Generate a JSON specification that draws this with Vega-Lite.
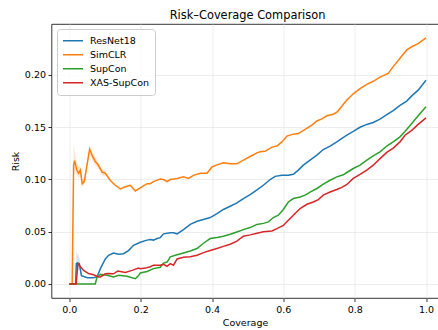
{
  "$schema": "https://vega.github.io/schema/vega-lite/v6.json",
  "width": 387,
  "height": 274,
  "autosize": {"type": "none"},
  "padding": {"left": 51.5, "top": 24, "right": 0, "bottom": 32},
  "title": {"text": "Risk–Coverage Comparison", "fontSize": 11.4, "fontWeight": "normal", "font": "DejaVu Sans", "color": "#000", "anchor": "middle", "offset": 2.5, "dx": 2.5},
  "data": {"values": [
    {"m":"ResNet18","c":0,"r":0},
    {"m":"ResNet18","c":0.0175,"r":0},
    {"m":"ResNet18","c":0.0196,"r":0.0195,"lo":0.010,"hi":0.032},
    {"m":"ResNet18","c":0.022,"r":0.020,"lo":0.012,"hi":0.029},
    {"m":"ResNet18","c":0.028,"r":0.0195,"lo":0.014,"hi":0.025},
    {"m":"ResNet18","c":0.034,"r":0.008,"lo":0.006,"hi":0.010},
    {"m":"ResNet18","c":0.05,"r":0.006},
    {"m":"ResNet18","c":0.068,"r":0.006},
    {"m":"ResNet18","c":0.078,"r":0.007},
    {"m":"ResNet18","c":0.087,"r":0.0147},
    {"m":"ResNet18","c":0.101,"r":0.024},
    {"m":"ResNet18","c":0.11,"r":0.0275},
    {"m":"ResNet18","c":0.124,"r":0.0297},
    {"m":"ResNet18","c":0.138,"r":0.0284},
    {"m":"ResNet18","c":0.152,"r":0.029},
    {"m":"ResNet18","c":0.166,"r":0.032},
    {"m":"ResNet18","c":0.18,"r":0.037},
    {"m":"ResNet18","c":0.199,"r":0.040},
    {"m":"ResNet18","c":0.218,"r":0.042},
    {"m":"ResNet18","c":0.227,"r":0.0425},
    {"m":"ResNet18","c":0.236,"r":0.042},
    {"m":"ResNet18","c":0.246,"r":0.0435},
    {"m":"ResNet18","c":0.255,"r":0.0444},
    {"m":"ResNet18","c":0.264,"r":0.048},
    {"m":"ResNet18","c":0.283,"r":0.049},
    {"m":"ResNet18","c":0.292,"r":0.049},
    {"m":"ResNet18","c":0.302,"r":0.048},
    {"m":"ResNet18","c":0.32,"r":0.052},
    {"m":"ResNet18","c":0.339,"r":0.057},
    {"m":"ResNet18","c":0.358,"r":0.060},
    {"m":"ResNet18","c":0.376,"r":0.0617},
    {"m":"ResNet18","c":0.395,"r":0.0636},
    {"m":"ResNet18","c":0.414,"r":0.0674},
    {"m":"ResNet18","c":0.432,"r":0.0713},
    {"m":"ResNet18","c":0.451,"r":0.0744},
    {"m":"ResNet18","c":0.47,"r":0.0776},
    {"m":"ResNet18","c":0.488,"r":0.0818},
    {"m":"ResNet18","c":0.507,"r":0.0855},
    {"m":"ResNet18","c":0.526,"r":0.090},
    {"m":"ResNet18","c":0.544,"r":0.0945},
    {"m":"ResNet18","c":0.563,"r":0.100},
    {"m":"ResNet18","c":0.577,"r":0.103},
    {"m":"ResNet18","c":0.596,"r":0.104},
    {"m":"ResNet18","c":0.614,"r":0.104},
    {"m":"ResNet18","c":0.628,"r":0.105},
    {"m":"ResNet18","c":0.642,"r":0.109},
    {"m":"ResNet18","c":0.656,"r":0.1137},
    {"m":"ResNet18","c":0.675,"r":0.1185},
    {"m":"ResNet18","c":0.694,"r":0.1233},
    {"m":"ResNet18","c":0.712,"r":0.1287},
    {"m":"ResNet18","c":0.731,"r":0.1319},
    {"m":"ResNet18","c":0.75,"r":0.136},
    {"m":"ResNet18","c":0.763,"r":0.139},
    {"m":"ResNet18","c":0.778,"r":0.1424},
    {"m":"ResNet18","c":0.796,"r":0.146},
    {"m":"ResNet18","c":0.815,"r":0.150},
    {"m":"ResNet18","c":0.834,"r":0.1527},
    {"m":"ResNet18","c":0.852,"r":0.1546},
    {"m":"ResNet18","c":0.871,"r":0.1577},
    {"m":"ResNet18","c":0.89,"r":0.162},
    {"m":"ResNet18","c":0.908,"r":0.166},
    {"m":"ResNet18","c":0.927,"r":0.171},
    {"m":"ResNet18","c":0.946,"r":0.175},
    {"m":"ResNet18","c":0.96,"r":0.180},
    {"m":"ResNet18","c":0.978,"r":0.1855},
    {"m":"ResNet18","c":1.0,"r":0.195},

    {"m":"SimCLR","c":0,"r":0},
    {"m":"SimCLR","c":0.008,"r":0},
    {"m":"SimCLR","c":0.012,"r":0.114,"lo":0.100,"hi":0.135},
    {"m":"SimCLR","c":0.0148,"r":0.118,"lo":0.110,"hi":0.127},
    {"m":"SimCLR","c":0.021,"r":0.109,"lo":0.104,"hi":0.115},
    {"m":"SimCLR","c":0.026,"r":0.106,"lo":0.101,"hi":0.112},
    {"m":"SimCLR","c":0.031,"r":0.109,"lo":0.104,"hi":0.114},
    {"m":"SimCLR","c":0.036,"r":0.096,"lo":0.093,"hi":0.100},
    {"m":"SimCLR","c":0.042,"r":0.098,"lo":0.095,"hi":0.102},
    {"m":"SimCLR","c":0.0496,"r":0.114,"lo":0.110,"hi":0.118},
    {"m":"SimCLR","c":0.057,"r":0.129,"lo":0.125,"hi":0.133},
    {"m":"SimCLR","c":0.064,"r":0.123,"lo":0.119,"hi":0.127},
    {"m":"SimCLR","c":0.073,"r":0.117,"lo":0.113,"hi":0.121},
    {"m":"SimCLR","c":0.079,"r":0.115,"lo":0.112,"hi":0.118},
    {"m":"SimCLR","c":0.092,"r":0.107,"lo":0.104,"hi":0.110},
    {"m":"SimCLR","c":0.101,"r":0.106,"lo":0.103,"hi":0.109},
    {"m":"SimCLR","c":0.115,"r":0.099},
    {"m":"SimCLR","c":0.129,"r":0.0945},
    {"m":"SimCLR","c":0.143,"r":0.091},
    {"m":"SimCLR","c":0.157,"r":0.093},
    {"m":"SimCLR","c":0.171,"r":0.0945},
    {"m":"SimCLR","c":0.185,"r":0.089},
    {"m":"SimCLR","c":0.199,"r":0.092},
    {"m":"SimCLR","c":0.218,"r":0.096},
    {"m":"SimCLR","c":0.227,"r":0.096},
    {"m":"SimCLR","c":0.236,"r":0.098},
    {"m":"SimCLR","c":0.255,"r":0.1005},
    {"m":"SimCLR","c":0.264,"r":0.100},
    {"m":"SimCLR","c":0.274,"r":0.098},
    {"m":"SimCLR","c":0.283,"r":0.100},
    {"m":"SimCLR","c":0.302,"r":0.101},
    {"m":"SimCLR","c":0.32,"r":0.1025},
    {"m":"SimCLR","c":0.334,"r":0.101},
    {"m":"SimCLR","c":0.348,"r":0.104},
    {"m":"SimCLR","c":0.367,"r":0.106},
    {"m":"SimCLR","c":0.386,"r":0.106},
    {"m":"SimCLR","c":0.4,"r":0.112},
    {"m":"SimCLR","c":0.414,"r":0.114},
    {"m":"SimCLR","c":0.432,"r":0.116},
    {"m":"SimCLR","c":0.451,"r":0.115},
    {"m":"SimCLR","c":0.47,"r":0.115},
    {"m":"SimCLR","c":0.488,"r":0.1185},
    {"m":"SimCLR","c":0.507,"r":0.122},
    {"m":"SimCLR","c":0.526,"r":0.1255},
    {"m":"SimCLR","c":0.535,"r":0.1265},
    {"m":"SimCLR","c":0.549,"r":0.127},
    {"m":"SimCLR","c":0.568,"r":0.131},
    {"m":"SimCLR","c":0.582,"r":0.132},
    {"m":"SimCLR","c":0.596,"r":0.136},
    {"m":"SimCLR","c":0.61,"r":0.1415},
    {"m":"SimCLR","c":0.628,"r":0.1434},
    {"m":"SimCLR","c":0.642,"r":0.144},
    {"m":"SimCLR","c":0.661,"r":0.148},
    {"m":"SimCLR","c":0.68,"r":0.152},
    {"m":"SimCLR","c":0.694,"r":0.156},
    {"m":"SimCLR","c":0.708,"r":0.158},
    {"m":"SimCLR","c":0.722,"r":0.161},
    {"m":"SimCLR","c":0.74,"r":0.1625},
    {"m":"SimCLR","c":0.752,"r":0.165},
    {"m":"SimCLR","c":0.764,"r":0.170},
    {"m":"SimCLR","c":0.778,"r":0.176},
    {"m":"SimCLR","c":0.787,"r":0.179},
    {"m":"SimCLR","c":0.796,"r":0.182},
    {"m":"SimCLR","c":0.815,"r":0.187},
    {"m":"SimCLR","c":0.834,"r":0.191},
    {"m":"SimCLR","c":0.852,"r":0.194},
    {"m":"SimCLR","c":0.871,"r":0.198},
    {"m":"SimCLR","c":0.894,"r":0.2015},
    {"m":"SimCLR","c":0.908,"r":0.208},
    {"m":"SimCLR","c":0.927,"r":0.216},
    {"m":"SimCLR","c":0.946,"r":0.224},
    {"m":"SimCLR","c":0.96,"r":0.227},
    {"m":"SimCLR","c":0.978,"r":0.230},
    {"m":"SimCLR","c":1.0,"r":0.2356},

    {"m":"SupCon","c":0,"r":0},
    {"m":"SupCon","c":0.0728,"r":0},
    {"m":"SupCon","c":0.0776,"r":0.0067},
    {"m":"SupCon","c":0.082,"r":0.0075},
    {"m":"SupCon","c":0.087,"r":0.0093},
    {"m":"SupCon","c":0.1056,"r":0.0083},
    {"m":"SupCon","c":0.124,"r":0.0067},
    {"m":"SupCon","c":0.138,"r":0.0083},
    {"m":"SupCon","c":0.162,"r":0.0074},
    {"m":"SupCon","c":0.185,"r":0.005},
    {"m":"SupCon","c":0.194,"r":0.008},
    {"m":"SupCon","c":0.199,"r":0.0105},
    {"m":"SupCon","c":0.218,"r":0.012},
    {"m":"SupCon","c":0.236,"r":0.0147},
    {"m":"SupCon","c":0.255,"r":0.016},
    {"m":"SupCon","c":0.264,"r":0.020},
    {"m":"SupCon","c":0.274,"r":0.021},
    {"m":"SupCon","c":0.283,"r":0.026},
    {"m":"SupCon","c":0.302,"r":0.028},
    {"m":"SupCon","c":0.32,"r":0.0297},
    {"m":"SupCon","c":0.339,"r":0.0316},
    {"m":"SupCon","c":0.358,"r":0.034},
    {"m":"SupCon","c":0.376,"r":0.039},
    {"m":"SupCon","c":0.395,"r":0.0435},
    {"m":"SupCon","c":0.414,"r":0.0444},
    {"m":"SupCon","c":0.432,"r":0.0457},
    {"m":"SupCon","c":0.451,"r":0.0476},
    {"m":"SupCon","c":0.47,"r":0.0498},
    {"m":"SupCon","c":0.488,"r":0.052},
    {"m":"SupCon","c":0.507,"r":0.054},
    {"m":"SupCon","c":0.526,"r":0.057},
    {"m":"SupCon","c":0.544,"r":0.058},
    {"m":"SupCon","c":0.558,"r":0.0594},
    {"m":"SupCon","c":0.572,"r":0.0636},
    {"m":"SupCon","c":0.586,"r":0.0658},
    {"m":"SupCon","c":0.6,"r":0.0713},
    {"m":"SupCon","c":0.614,"r":0.0785},
    {"m":"SupCon","c":0.628,"r":0.0818},
    {"m":"SupCon","c":0.647,"r":0.0833},
    {"m":"SupCon","c":0.661,"r":0.085},
    {"m":"SupCon","c":0.675,"r":0.088},
    {"m":"SupCon","c":0.694,"r":0.0914},
    {"m":"SupCon","c":0.712,"r":0.0955},
    {"m":"SupCon","c":0.731,"r":0.0993},
    {"m":"SupCon","c":0.75,"r":0.1025},
    {"m":"SupCon","c":0.768,"r":0.1045},
    {"m":"SupCon","c":0.778,"r":0.1067},
    {"m":"SupCon","c":0.796,"r":0.1105},
    {"m":"SupCon","c":0.815,"r":0.1137},
    {"m":"SupCon","c":0.834,"r":0.1185},
    {"m":"SupCon","c":0.852,"r":0.1226},
    {"m":"SupCon","c":0.871,"r":0.1264},
    {"m":"SupCon","c":0.89,"r":0.132},
    {"m":"SupCon","c":0.908,"r":0.136},
    {"m":"SupCon","c":0.927,"r":0.1408},
    {"m":"SupCon","c":0.941,"r":0.146},
    {"m":"SupCon","c":0.96,"r":0.1536},
    {"m":"SupCon","c":0.978,"r":0.161},
    {"m":"SupCon","c":1.0,"r":0.1695},

    {"m":"XAS-SupCon","c":0,"r":0},
    {"m":"XAS-SupCon","c":0.019,"r":0},
    {"m":"XAS-SupCon","c":0.024,"r":0.0195},
    {"m":"XAS-SupCon","c":0.04,"r":0.013},
    {"m":"XAS-SupCon","c":0.054,"r":0.010},
    {"m":"XAS-SupCon","c":0.068,"r":0.0088},
    {"m":"XAS-SupCon","c":0.082,"r":0.0067},
    {"m":"XAS-SupCon","c":0.087,"r":0.0067},
    {"m":"XAS-SupCon","c":0.101,"r":0.0098},
    {"m":"XAS-SupCon","c":0.11,"r":0.010},
    {"m":"XAS-SupCon","c":0.124,"r":0.0097},
    {"m":"XAS-SupCon","c":0.136,"r":0.0125},
    {"m":"XAS-SupCon","c":0.157,"r":0.011},
    {"m":"XAS-SupCon","c":0.176,"r":0.013},
    {"m":"XAS-SupCon","c":0.194,"r":0.0152},
    {"m":"XAS-SupCon","c":0.199,"r":0.0147},
    {"m":"XAS-SupCon","c":0.213,"r":0.0152},
    {"m":"XAS-SupCon","c":0.227,"r":0.0165},
    {"m":"XAS-SupCon","c":0.236,"r":0.018},
    {"m":"XAS-SupCon","c":0.255,"r":0.0179},
    {"m":"XAS-SupCon","c":0.264,"r":0.0189},
    {"m":"XAS-SupCon","c":0.274,"r":0.017},
    {"m":"XAS-SupCon","c":0.283,"r":0.0195},
    {"m":"XAS-SupCon","c":0.292,"r":0.018},
    {"m":"XAS-SupCon","c":0.302,"r":0.024},
    {"m":"XAS-SupCon","c":0.32,"r":0.0255},
    {"m":"XAS-SupCon","c":0.339,"r":0.026},
    {"m":"XAS-SupCon","c":0.358,"r":0.0275},
    {"m":"XAS-SupCon","c":0.376,"r":0.030},
    {"m":"XAS-SupCon","c":0.395,"r":0.032},
    {"m":"XAS-SupCon","c":0.414,"r":0.034},
    {"m":"XAS-SupCon","c":0.432,"r":0.036},
    {"m":"XAS-SupCon","c":0.451,"r":0.038},
    {"m":"XAS-SupCon","c":0.47,"r":0.041},
    {"m":"XAS-SupCon","c":0.479,"r":0.0435},
    {"m":"XAS-SupCon","c":0.488,"r":0.0457},
    {"m":"XAS-SupCon","c":0.507,"r":0.047},
    {"m":"XAS-SupCon","c":0.526,"r":0.0485},
    {"m":"XAS-SupCon","c":0.544,"r":0.050},
    {"m":"XAS-SupCon","c":0.568,"r":0.0508},
    {"m":"XAS-SupCon","c":0.582,"r":0.053},
    {"m":"XAS-SupCon","c":0.6,"r":0.056},
    {"m":"XAS-SupCon","c":0.614,"r":0.061},
    {"m":"XAS-SupCon","c":0.633,"r":0.0674},
    {"m":"XAS-SupCon","c":0.647,"r":0.0722},
    {"m":"XAS-SupCon","c":0.666,"r":0.0763},
    {"m":"XAS-SupCon","c":0.684,"r":0.0785},
    {"m":"XAS-SupCon","c":0.698,"r":0.0808},
    {"m":"XAS-SupCon","c":0.712,"r":0.085},
    {"m":"XAS-SupCon","c":0.731,"r":0.088},
    {"m":"XAS-SupCon","c":0.75,"r":0.0904},
    {"m":"XAS-SupCon","c":0.764,"r":0.0925},
    {"m":"XAS-SupCon","c":0.778,"r":0.0952},
    {"m":"XAS-SupCon","c":0.796,"r":0.101},
    {"m":"XAS-SupCon","c":0.815,"r":0.1048},
    {"m":"XAS-SupCon","c":0.834,"r":0.109},
    {"m":"XAS-SupCon","c":0.852,"r":0.1137},
    {"m":"XAS-SupCon","c":0.871,"r":0.120},
    {"m":"XAS-SupCon","c":0.89,"r":0.1259},
    {"m":"XAS-SupCon","c":0.908,"r":0.130},
    {"m":"XAS-SupCon","c":0.927,"r":0.136},
    {"m":"XAS-SupCon","c":0.941,"r":0.1424},
    {"m":"XAS-SupCon","c":0.96,"r":0.147},
    {"m":"XAS-SupCon","c":0.978,"r":0.1527},
    {"m":"XAS-SupCon","c":1.0,"r":0.159}
  ]},
  "encoding": {
    "x": {"field": "c", "type": "quantitative",
      "scale": {"domain": [-0.05, 1.035], "nice": false, "zero": false},
      "axis": {"title": "Coverage", "values": [0, 0.2, 0.4, 0.6, 0.8, 1.0], "format": ".1f"}},
    "color": {"field": "m", "type": "nominal",
      "scale": {"domain": ["ResNet18", "SimCLR", "SupCon", "XAS-SupCon"], "range": ["#1f77b4", "#ff7f0e", "#2ca02c", "#d62728"]},
      "legend": {"title": null, "orient": "none", "legendX": 5.5, "legendY": 5, "padding": 5,
        "fillColor": "rgba(255,255,255,0.8)", "strokeColor": "#cccccc", "cornerRadius": 3,
        "symbolType": "stroke", "symbolSize": 400, "symbolStrokeWidth": 1.5, "symbolOpacity": 1,
        "labelFontSize": 9.5, "labelFont": "DejaVu Sans", "labelColor": "#000", "labelOffset": 6,
        "clipHeight": 13.3, "rowPadding": 0}}
  },
  "layer": [
    {
      "mark": {"type": "area", "opacity": 0.2, "invalid": "filter"},
      "encoding": {
        "y": {"field": "lo", "type": "quantitative",
          "scale": {"domain": [-0.0134, 0.2488], "nice": false, "zero": false}},
        "y2": {"field": "hi"}
      }
    },
    {
      "mark": {"type": "line", "strokeWidth": 1.5},
      "encoding": {
        "y": {"field": "r", "type": "quantitative",
          "scale": {"domain": [-0.0134, 0.2488], "nice": false, "zero": false},
          "axis": {"title": "Risk", "values": [0, 0.05, 0.1, 0.15, 0.2], "format": ".2f"}}
      }
    }
  ],
  "config": {
    "font": "DejaVu Sans",
    "view": {"stroke": "#000", "strokeWidth": 0.8},
    "axis": {
      "domain": false,
      "grid": true, "gridColor": "#e8e8e8", "gridWidth": 0.8,
      "tickColor": "#000", "tickSize": 3.5, "tickWidth": 0.8,
      "labelFont": "DejaVu Sans", "labelFontSize": 9.5, "labelColor": "#000", "labelPadding": 2.5,
      "titleFont": "DejaVu Sans", "titleFontSize": 9.5, "titleFontWeight": "normal", "titleColor": "#000", "titlePadding": 3.5
    }
  }
}
